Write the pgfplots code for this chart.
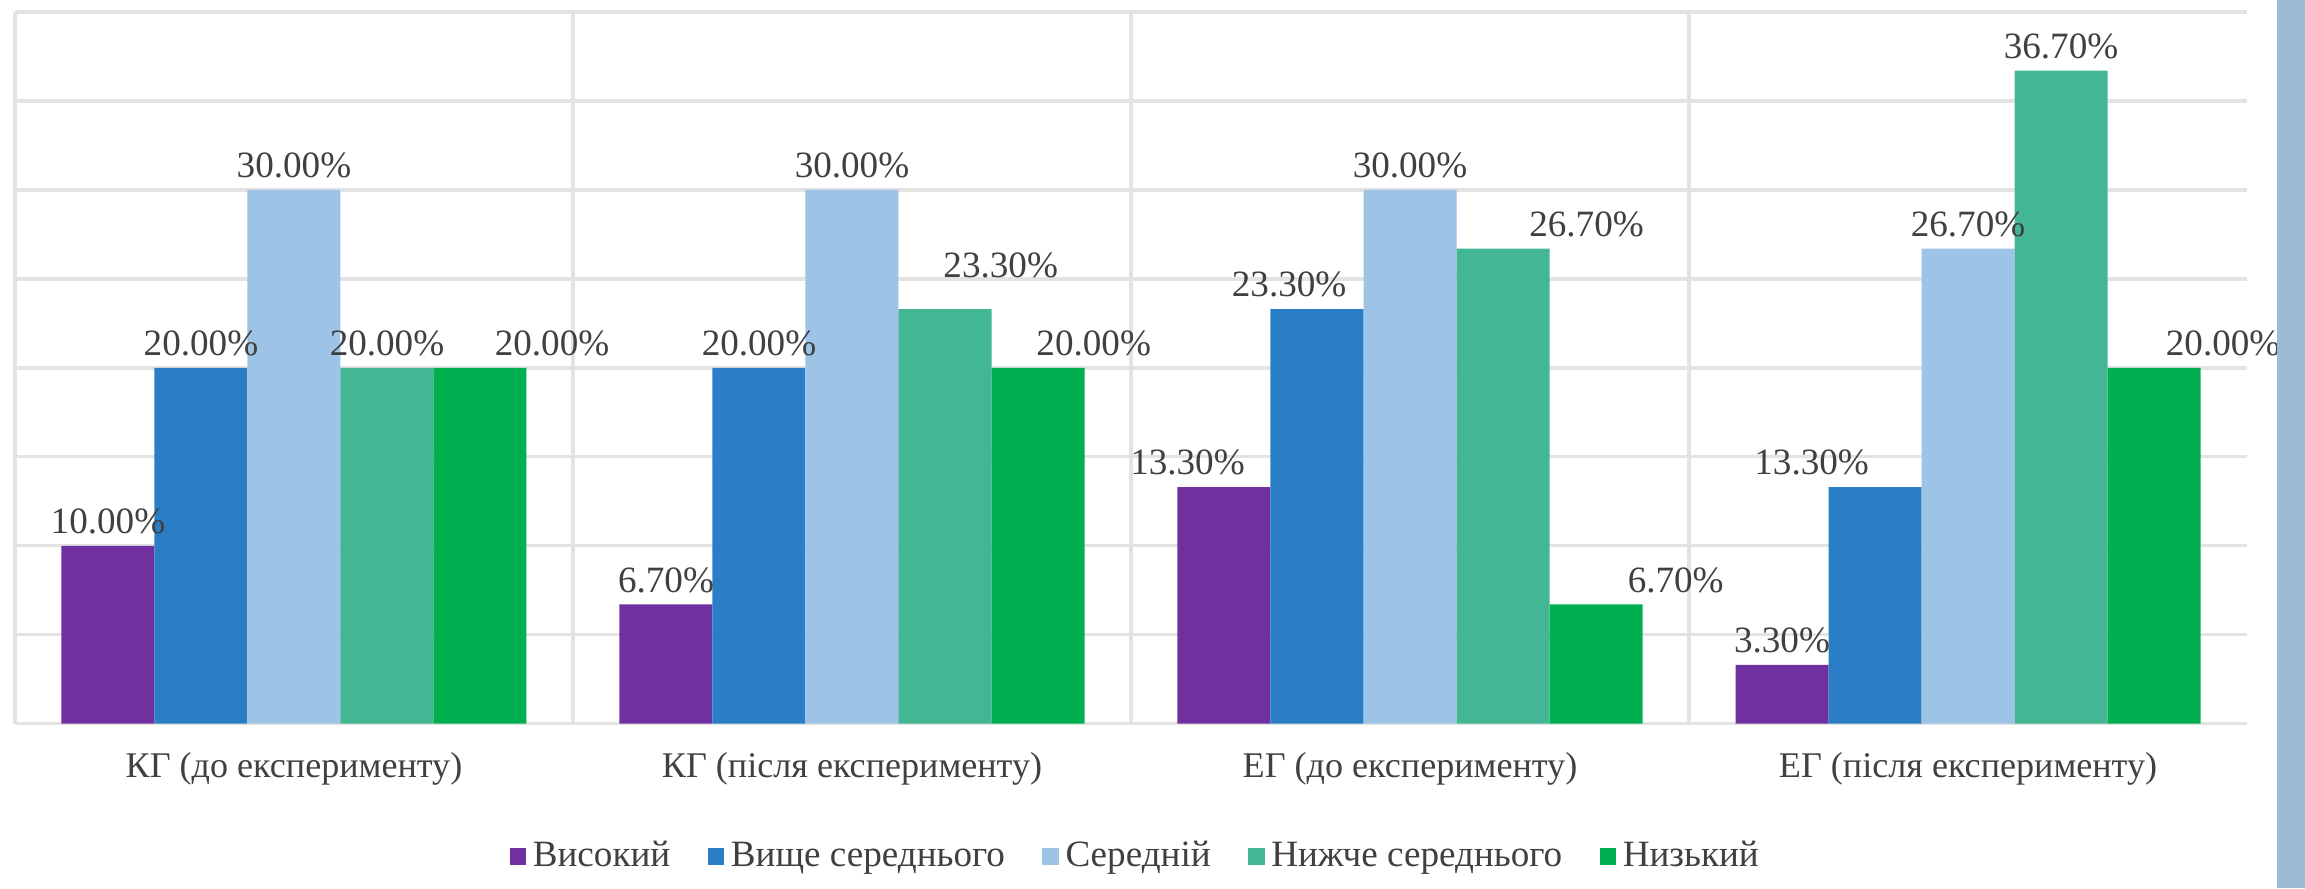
\documentclass[border=0pt]{standalone}
\usepackage{pgfplots}
\pgfplotsset{compat=1.18}
\usepackage{fontspec}
\setmainfont{Liberation Serif}
\definecolor{cA}{HTML}{7030A0}
\definecolor{cB}{HTML}{2A7EC6}
\definecolor{cC}{HTML}{9DC3E6}
\definecolor{cD}{HTML}{43B794}
\definecolor{cE}{HTML}{00B050}
\definecolor{gridc}{HTML}{E3E3E3}
\definecolor{txt}{HTML}{404040}
\definecolor{strip}{HTML}{9DBCD4}
\begin{document}
\begin{tikzpicture}
\path[use as bounding box] (-0.156,-1.711) rectangle (23.844,7.535);
\begin{axis}[
  at={(0,0)}, anchor=south west,
  scale only axis, width=23.24cm, height=7.41cm,
  xmin=-0.5, xmax=3.5, ymin=0, ymax=40,
  ybar=0pt, bar width=0.16667,
  axis line style={draw=none},
  xtick={0,1,2,3},
  xticklabels={КГ (до експерименту), КГ (після експерименту), ЕГ (до експерименту), ЕГ (після експерименту)},
  minor xtick={-0.5,0.5,1.5,2.5},
  xminorgrids, minor x grid style={gridc, line width=1pt},
  ytick={0,5,...,40}, yticklabels={},
  ymajorgrids, major grid style={gridc, line width=1pt},
  major tick length=0pt, minor tick length=0pt,
  tick label style={font=\fontsize{10.7}{12}\selectfont, text=txt},
  xticklabel style={yshift=-0.18cm},
  nodes near coords={\pgfmathprintnumber[fixed,fixed zerofill,precision=2,assume math mode=true]{\pgfplotspointmeta}\%},
  visualization depends on={value \thisrow{dx}\as\dx},
  visualization depends on={value \thisrow{dy}\as\dy},
  every node near coord/.append style={font=\fontsize{11}{13}\selectfont, text=txt, xshift=\dx cm, yshift=\dy cm},
  legend style={at={(0.503,-0.187)}, anchor=center, legend columns=5, draw=none,
    font=\fontsize{11}{12}\selectfont, text=txt,
    /tikz/every even column/.append style={column sep=0.32cm}},
  legend image code/.code={\fill[#1] (0cm,-0.09cm) rectangle (0.17cm,0.09cm);},
]
\addplot[fill=cA, draw=none] table {
x y dx dy
0 10 0 0
1 6.7 0 0
2 13.3 -0.38 0
3 3.3 0 0
};
\addlegendentry{Високий}
\addplot[fill=cB, draw=none] table {
x y dx dy
0 20 0 0
1 20 0 0
2 23.3 -0.29 0
3 13.3 -0.66 0
};
\addlegendentry{Вище середнього}
\addplot[fill=cC, draw=none] table {
x y dx dy
0 30 0 0
1 30 0 0
2 30 0 0
3 26.7 0 0
};
\addlegendentry{Середній}
\addplot[fill=cD, draw=none] table {
x y dx dy
0 20 0 0
1 23.3 0.58 0.2
2 26.7 0.87 0
3 36.7 0 0
};
\addlegendentry{Нижче середнього}
\addplot[fill=cE, draw=none] table {
x y dx dy
0 20 0.75 0
1 20 0.58 0
2 6.7 0.83 0
3 20 0.72 0
};
\addlegendentry{Низький}
\end{axis}
\fill[strip] (23.55,-1.711) rectangle (23.844,7.535);
\end{tikzpicture}
\end{document}
